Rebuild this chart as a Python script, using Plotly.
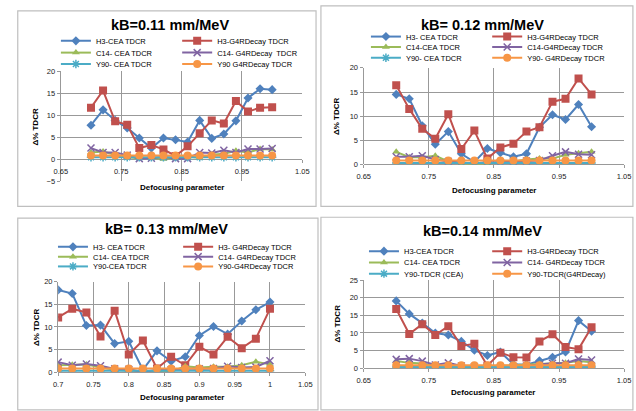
import plotly.graph_objects as go

W, H = 636, 411
x_vals = [0.70, 0.72, 0.74, 0.76, 0.78, 0.80, 0.82, 0.84, 0.86, 0.88, 0.90, 0.92, 0.94, 0.96, 0.98, 1.00]

# ---- data ----
p1_h3_cea = [7.7, 11.2, 8.8, 7.1, 4.8, 2.5, 4.8, 4.4, 3.9, 8.8, 4.7, 5.7, 8.7, 13.9, 16.0, 15.8]
p1_h3_g4r = [11.7, 15.6, 8.6, 7.8, 2.5, 3.2, 2.2, 0.7, 2.9, 5.9, 8.8, 8.1, 13.2, 10.8, 11.7, 11.8]
p1_c14_cea = [1.5, 1.7, 1.0, 0.4, 0.2, 0.3, 0.0, 0.3, 0.5, 0.3, 1.0, 1.2, 1.9, 1.5, 2.3, 2.2]
p1_c14_g4r = [2.5, 1.5, 1.5, 0.9, 0.1, 0.2, 0.6, 0.1, 0.1, 1.5, 1.4, 2.0, 1.5, 2.3, 2.3, 2.4]
p1_y90_cea = [0.4, 0.4, 0.4, 0.4, 0.4, 0.4, 0.4, 0.4, 0.4, 0.4, 0.4, 0.4, 0.4, 0.4, 0.4, 0.4]
p1_y90_g4r = [0.8, 0.8, 0.8, 0.8, 0.8, 0.8, 0.8, 0.8, 0.8, 0.8, 0.8, 0.8, 0.8, 0.8, 0.8, 0.8]

p2_h3_cea = [14.5, 13.6, 8.0, 4.2, 6.8, 2.2, 0.5, 3.3, 2.4, 1.6, 2.2, 7.7, 10.3, 9.3, 12.4, 7.8]
p2_h3_g4r = [16.4, 11.5, 7.4, 5.3, 10.4, 3.2, 7.0, 1.2, 3.5, 4.3, 6.8, 7.7, 13.0, 13.6, 17.8, 14.5]
p2_c14_cea = [2.6, 1.5, 1.5, 1.8, 0.6, 0.1, 0.1, 0.0, 0.6, 0.6, 1.0, 1.2, 1.2, 2.0, 2.3, 2.6]
p2_c14_g4r = [1.6, 1.6, 1.8, 1.0, 0.6, 0.4, 0.2, 0.5, 0.4, 0.6, 0.7, 0.8, 1.8, 2.6, 2.1, 2.0]
p2_y90_cea = [0.3, 0.3, 0.3, 0.3, 0.3, 0.3, 0.3, 0.3, 0.3, 0.3, 0.3, 0.3, 0.3, 0.3, 0.3, 0.3]
p2_y90_g4r = [0.8, 0.8, 0.8, 0.8, 0.8, 0.8, 0.8, 0.8, 0.8, 0.8, 0.8, 0.8, 0.8, 0.8, 0.8, 0.8]

p3_h3_cea = [18.2, 17.4, 10.3, 10.4, 6.3, 6.8, 0.5, 4.7, 2.4, 3.4, 8.1, 10.1, 8.4, 11.3, 13.8, 15.5]
p3_h3_g4r = [12.1, 14.0, 13.2, 7.9, 13.6, 3.9, 7.0, 0.8, 3.4, 1.5, 5.6, 3.9, 7.8, 5.3, 7.4, 14.0]
p3_c14_cea = [1.5, 1.6, 1.7, 1.0, 0.5, 0.3, 0.2, 0.1, 0.1, 1.3, 1.0, 1.2, 1.2, 1.5, 2.3, 1.7]
p3_c14_g4r = [2.2, 1.5, 1.8, 1.4, 0.7, 0.6, 0.0, 0.5, 0.5, 0.8, 0.7, 0.8, 1.3, 1.0, 1.1, 2.5]
p3_y90_cea = [0.3, 0.3, 0.3, 0.3, 0.3, 0.3, 0.3, 0.3, 0.3, 0.3, 0.3, 0.3, 0.3, 0.3, 0.3, 0.3]
p3_y90_g4r = [0.8, 0.8, 0.8, 0.8, 0.8, 0.8, 0.8, 0.8, 0.8, 0.8, 0.8, 0.8, 0.8, 0.8, 0.8, 0.8]

p4_h3_cea = [19.1, 15.4, 12.8, 10.0, 9.4, 7.6, 5.1, 3.6, 4.6, 1.1, 1.0, 2.1, 3.1, 4.6, 13.5, 10.5]
p4_h3_g4r = [16.8, 9.7, 12.5, 9.4, 11.9, 6.3, 6.9, 0.7, 4.4, 3.1, 3.0, 7.6, 9.6, 6.0, 5.4, 11.6]
p4_c14_cea = [2.0, 1.5, 1.3, 0.6, 0.0, 0.3, 0.0, 0.0, 0.6, 0.8, 1.0, 1.2, 1.2, 1.5, 2.0, 1.7]
p4_c14_g4r = [2.5, 2.7, 2.0, 0.9, 1.5, 0.6, 0.4, 0.2, 0.1, 0.3, 0.6, 0.9, 1.4, 1.4, 2.6, 2.3]
p4_y90_cea = [0.3, 0.3, 0.3, 0.3, 0.3, 0.3, 0.3, 0.3, 0.3, 0.3, 0.3, 0.3, 0.3, 0.3, 0.3, 0.3]
p4_y90_g4r = [0.8, 0.8, 0.8, 0.8, 0.8, 0.8, 0.8, 0.8, 0.8, 0.8, 0.8, 0.8, 0.8, 0.8, 0.8, 0.8]

titles = ["kB=0.11 mm/MeV", "kB= 0.12 mm/MeV", "kB= 0.13 mm/MeV", "kB=0.14 mm/MeV"]
names = [
    ["H3-CEA TDCR", "H3-G4RDecay TDCR", "C14- CEA TDCR", "C14- G4RDecay  TDCR", "Y90- CEA TDCR", "Y90 G4RDecay TDCR"],
    ["H3- CEA TDCR", "H3-G4RDecay TDCR", "C14-CEA TDCR", "C14-G4RDecay TDCR", "Y90- CEA TDCR", "Y90- G4RDecay TDCR"],
    ["H3- CEA TDCR", "H3- G4RDecay TDCR", "C14- CEA TDCR", "C14- G4RDecay TDCR", "Y90-CEA TDCR", "Y90-G4RDecay TDCR"],
    ["H3-CEA TDCR", "H3-G4RDecay TDCR", "C14- CEA TDCR", "C14- G4RDecay TDCR", "Y90-TDCR (CEA)", "Y90-TDCR(G4RDecay)"],
]
panel_data = [
    [p1_h3_cea, p1_h3_g4r, p1_c14_cea, p1_c14_g4r, p1_y90_cea, p1_y90_g4r],
    [p2_h3_cea, p2_h3_g4r, p2_c14_cea, p2_c14_g4r, p2_y90_cea, p2_y90_g4r],
    [p3_h3_cea, p3_h3_g4r, p3_c14_cea, p3_c14_g4r, p3_y90_cea, p3_y90_g4r],
    [p4_h3_cea, p4_h3_g4r, p4_c14_cea, p4_c14_g4r, p4_y90_cea, p4_y90_g4r],
]
y_title = "Δ% TDCR"
x_title = "Defocusing parameter"

# ---- styles ----
FONT = "Liberation Sans, Arial, sans-serif"
colors = ["#4F81BD", "#C0504D", "#9BBB59", "#8064A2", "#4BACC6", "#F79646"]
symbols = ["diamond", "square", "triangle-up", "x-thin-open", "asterisk-open", "circle"]
msizes = [7, 8, 7, 7, 7, 8]
GRID = "#999999"

# panel geometry in pixels (x_left, x_right, y_top, y_bottom)
plots = [(55, 302, 68.7, 181), (364.7, 631, 65.3, 164), (52.3, 305, 284, 376.3), (364.7, 631, 282.3, 372.3)]
xranges = [[0.65, 1.05], [0.65, 1.05], [0.7, 1.05], [0.65, 1.05]]
xtick0 = [0.65, 0.65, 0.7, 0.65]
xdtick = [0.1, 0.1, 0.05, 0.1]
yranges = [[-5, 20], [0, 20], [0, 20], [0, 25]]
title_pos = [(167, 21.7), (486, 21.7), (163, 230), (486, 231.7)]
legend_text_x = [(88, 212), (405, 529), (85, 213), (403, 529)]
legend_rows_y = [(37.7, 49.7, 61.3), (33.3, 44, 55), (248.3, 258.3, 268.3), (252.7, 264.3, 275.7)]
xtitle_pos = [(178.5, 188), (498, 190.7), (178.6, 402), (497, 397.7)]
ytitle_pos = [(29, 125), (337, 115), (30, 330), (338, 327)]
frames = [(11, 7, 316, 207), (321, 2, 640, 207), (11, 219, 318, 415), (321, 218, 640, 415)]

def px(xp):
    return xp / W

def py(yp):
    return 1 - yp / H

fig = go.Figure()
layout = dict(
    width=W, height=H, margin=dict(l=0, r=0, t=0, b=0),
    paper_bgcolor="white", plot_bgcolor="white",
    font=dict(family=FONT, size=8, color="#000000"),
    shapes=[], annotations=[],
)

leg_idx = 0
for p in range(4):
    xl, xr, yt, yb = plots[p]
    sfx = "" if p == 0 else str(p + 1)
    xa = "x" + sfx
    ya = "y" + sfx
    xdom = [px(xl), px(xr)]
    ydom = [py(yb), py(yt)]
    xaxis = dict(
        domain=xdom, range=xranges[p], tick0=xtick0[p], dtick=xdtick[p],
        showgrid=True, gridcolor=GRID, gridwidth=1.3, zeroline=False, showline=False,
        ticks="outside", ticklen=3, tickcolor=GRID, ticklabelstandoff=2,
        tickfont=dict(family=FONT, size=7.5, color="#222"),
        anchor=ya,
    )
    y0, y1 = yranges[p]
    if y0 < 0:
        xaxis["anchor"] = "free"
        xaxis["position"] = ydom[0] + (0 - y0) / (y1 - y0) * (ydom[1] - ydom[0])
    yaxis = dict(
        domain=ydom, range=yranges[p], tick0=0, dtick=5,
        showgrid=True, gridcolor=GRID, gridwidth=1.3, zeroline=True, zerolinecolor=GRID, zerolinewidth=1.3,
        showline=True, linecolor=GRID, linewidth=1.3,
        ticks="outside", ticklen=3, tickcolor=GRID,
        tickfont=dict(family=FONT, size=7.5, color="#222"),
        anchor=xa,
    )
    layout["xaxis" + sfx] = xaxis
    layout["yaxis" + sfx] = yaxis

    for s in range(6):
        leg_idx += 1
        lname = "legend" if leg_idx == 1 else "legend" + str(leg_idx)
        row = s // 2
        col = s % 2
        mk = dict(symbol=symbols[s], size=msizes[s], color=colors[s])
        if symbols[s].endswith("-open"):
            mk["line"] = dict(color=colors[s], width=1.5)
        fig.add_trace(go.Scatter(
            x=x_vals, y=panel_data[p][s], mode="lines+markers", name=names[p][s],
            line=dict(color=colors[s], width=2), marker=mk,
            xaxis=xa, yaxis=ya, legend=lname, showlegend=True,
        ))
        layout[lname] = dict(
            x=px(legend_text_x[p][col] - 38), y=py(legend_rows_y[p][row]),
            xanchor="left", yanchor="middle", orientation="v",
            bgcolor="rgba(0,0,0,0)", borderwidth=0,
            font=dict(family=FONT, size=7.5, color="#000"),
        )

    layout["annotations"].append(dict(
        text="<b>" + titles[p] + "</b>", x=px(title_pos[p][0]), y=py(title_pos[p][1]),
        xref="paper", yref="paper", showarrow=False, xanchor="center", yanchor="middle",
        font=dict(family=FONT, size=14.5, color="#000"),
    ))
    layout["annotations"].append(dict(
        text="<b>" + x_title + "</b>", x=px(xtitle_pos[p][0]), y=py(xtitle_pos[p][1]),
        xref="paper", yref="paper", showarrow=False, xanchor="center", yanchor="middle",
        font=dict(family=FONT, size=8, color="#000"),
    ))
    layout["annotations"].append(dict(
        text="<b>" + y_title + "</b>", x=px(ytitle_pos[p][0]), y=py(ytitle_pos[p][1]),
        xref="paper", yref="paper", showarrow=False, xanchor="center", yanchor="middle",
        textangle=-90, font=dict(family=FONT, size=8, color="#000"),
    ))
    fx0, fy0, fx1, fy1 = frames[p]
    layout["shapes"].append(dict(
        type="rect", xref="paper", yref="paper",
        x0=px(fx0), x1=px(fx1), y0=py(fy1), y1=py(fy0),
        line=dict(color="#BFBFBF", width=1.2), layer="below",
    ))

fig.update_layout(**layout)
fig.write_html("out.html")
